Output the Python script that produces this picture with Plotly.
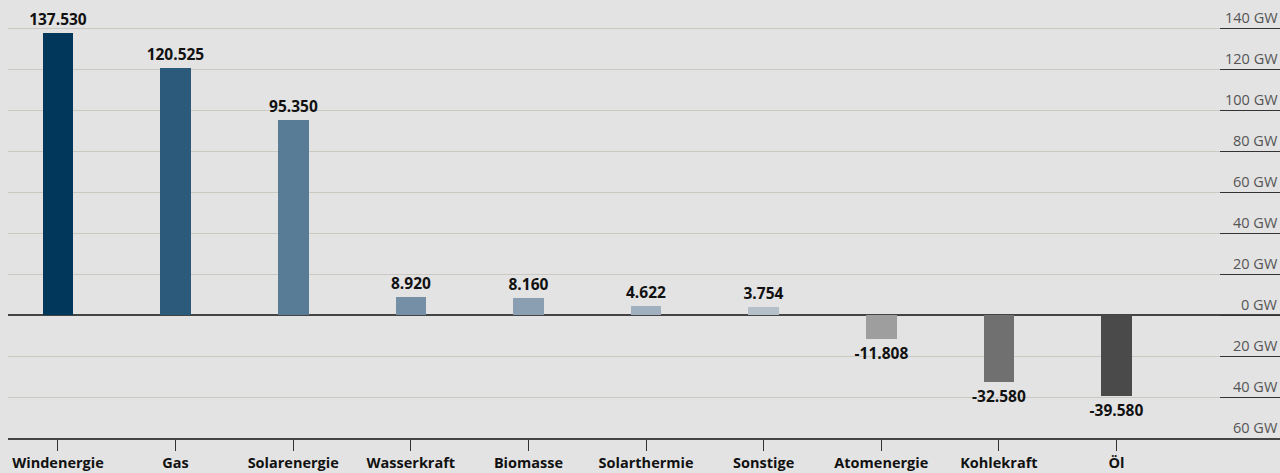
import plotly.graph_objects as go

categories = ["Windenergie", "Gas", "Solarenergie", "Wasserkraft", "Biomasse",
              "Solarthermie", "Sonstige", "Atomenergie", "Kohlekraft", "Öl"]
values_mw = [137530, 120525, 95350, 8920, 8160, 4622, 3754, -11808, -32580, -39580]
bar_colors = ["#02375c", "#2c5a7a", "#597c96", "#7590a6", "#8aa0b2",
              "#a0b0bf", "#b4bfc9", "#9e9e9e", "#707070", "#4a4a4a"]
tick_vals = [-60, -40, -20, 0, 20, 40, 60, 80, 100, 120, 140]
tick_text = ["60 GW", "40 GW", "20 GW", "0 GW", "20 GW", "40 GW", "60 GW",
             "80 GW", "100 GW", "120 GW", "140 GW"]

values_gw = [v / 1000 for v in values_mw]
labels = [f"{v:,}".replace(",", ".") for v in values_mw]

fig = go.Figure()
fig.add_trace(go.Bar(
    x=categories, y=values_gw, marker=dict(color=bar_colors, line=dict(width=0)),
    width=0.26, text=labels, textposition="outside", cliponaxis=False,
    constraintext="none",
    textfont=dict(family="Open Sans", size=15.5, color="#111111", weight="bold"),
    hoverinfo="skip",
))

for tv, tt in zip(tick_vals, tick_text):
    fig.add_annotation(
        x=1, xref="paper", y=tv, yref="y", xanchor="right", yanchor="bottom",
        text=tt, showarrow=False, xshift=0, yshift=-1,
        font=dict(family="Open Sans", size=14.5, color="#555555"),
    )

fig.update_layout(
    width=1280, height=473,
    margin=dict(l=8, r=0, t=0, b=35, autoexpand=False),
    paper_bgcolor="#e3e3e3", plot_bgcolor="#e3e3e3",
    showlegend=False,
    font=dict(family="Open Sans"),
    bargap=0,
    uniformtext=dict(mode=False),
)
fig.update_xaxes(
    range=[-0.425, 10.39], automargin=False,
    showline=True, linecolor="#444444", linewidth=2,
    ticks="outside", ticklen=11, tickcolor="#333333", tickwidth=1,
    tickfont=dict(family="Open Sans", size=14.5, color="#111111", weight="bold"),
    showgrid=False, fixedrange=True,
)
fig.update_yaxes(
    range=[-60, 153.66], side="right", automargin=False,
    tickvals=tick_vals, showticklabels=False,
    ticks="inside", ticklen=60, tickcolor="#333333", tickwidth=1,
    showgrid=True, gridcolor="#c9c9c2", gridwidth=1,
    zeroline=True, zerolinecolor="#444444", zerolinewidth=2,
    showline=False, fixedrange=True,
)

fig.write_html(
    "out.html",
    config={"displayModeBar": False},
    post_script="document.body.style.margin='0';document.body.style.overflow='hidden';",
)
